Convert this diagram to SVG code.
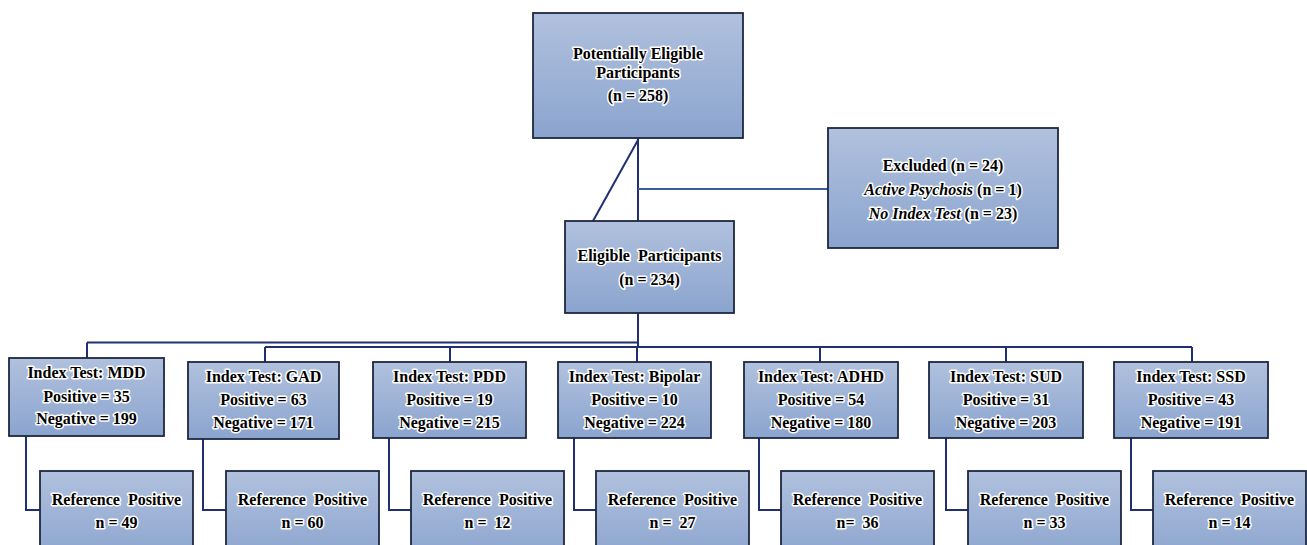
<svg xmlns="http://www.w3.org/2000/svg" width="1307" height="545" viewBox="0 0 1307 545">
<defs>
<linearGradient id="g" x1="0" y1="0" x2="0" y2="1">
<stop offset="0" stop-color="#b1c1de"/>
<stop offset="1" stop-color="#8ba4ce"/>
</linearGradient>
<style>
.box{fill:url(#g);stroke:#1d2742;stroke-width:1.8}
.t{font-family:"Liberation Serif","Times New Roman",serif;font-size:16px;font-weight:bold;fill:#000;stroke:#fff;stroke-width:3;stroke-linejoin:round;paint-order:stroke;text-anchor:middle;white-space:pre}
.i{font-style:italic}
.c{fill:none;stroke:#1f2f72;stroke-width:2}
.c2{fill:none;stroke:#3a5a9c;stroke-width:2}
</style>
</defs>
<rect width="1307" height="545" fill="#fff"/>
<g id="connectors">
<path class="c" d="M638 138V221"/>
<path class="c" d="M638 140L593 221" stroke-width="1.5"/>
<path class="c2" d="M638 189H828"/>
<path class="c" d="M638 313V347"/>
<path class="c" d="M87 342.5H638M87 342.5V358"/>
<path class="c" d="M265 347H1192M265 347V362M450 347V362M637 347V362M820 347V362M1006 347V362M1192 347V362"/>
<path class="c" d="M26 436V510H40M203 439V510H226M389 438V510H411M574 438V510H596M759 438V510H781M946 438V510H968M1131 438V510H1153"/>
</g>
<g id="potential">
<rect class="box" x="533" y="13" width="210" height="125"/>
<text class="t" x="638" y="59">Potentially Eligible</text>
<text class="t" x="638" y="78">Participants</text>
<text class="t" x="638" y="101">(n = 258)</text>
</g>
<g id="excluded">
<rect class="box" x="828" y="128" width="230" height="120"/>
<text class="t" x="943" y="171">Excluded (n = 24)</text>
<text class="t" x="943" y="195"><tspan class="i">Active Psychosis</tspan> (n = 1)</text>
<text class="t" x="943" y="219"><tspan class="i">No Index Test</tspan> (n = 23)</text>
</g>
<g id="eligible">
<rect class="box" x="565" y="221" width="169" height="92"/>
<text class="t" x="649.5" y="261">Eligible  Participants</text>
<text class="t" x="649.5" y="285">(n = 234)</text>
</g>
<g id="mdd">
<rect class="box" x="9" y="358" width="155" height="78"/>
<text class="t" x="86.5" y="378">Index Test: MDD</text>
<text class="t" x="86.5" y="402">Positive = 35</text>
<text class="t" x="86.5" y="424">Negative = 199</text>
</g>
<g id="gad">
<rect class="box" x="188" y="362" width="151" height="77"/>
<text class="t" x="263.5" y="382">Index Test: GAD</text>
<text class="t" x="263.5" y="405">Positive = 63</text>
<text class="t" x="263.5" y="428">Negative = 171</text>
</g>
<g id="pdd">
<rect class="box" x="373" y="362" width="153" height="76"/>
<text class="t" x="449.5" y="382">Index Test: PDD</text>
<text class="t" x="449.5" y="405">Positive = 19</text>
<text class="t" x="449.5" y="428">Negative = 215</text>
</g>
<g id="bipolar">
<rect class="box" x="558" y="362" width="153" height="76"/>
<text class="t" x="634.5" y="382">Index Test: Bipolar</text>
<text class="t" x="634.5" y="405">Positive = 10</text>
<text class="t" x="634.5" y="428">Negative = 224</text>
</g>
<g id="adhd">
<rect class="box" x="744" y="362" width="154" height="76"/>
<text class="t" x="821" y="382">Index Test: ADHD</text>
<text class="t" x="821" y="405">Positive = 54</text>
<text class="t" x="821" y="428">Negative = 180</text>
</g>
<g id="sud">
<rect class="box" x="929" y="362" width="154" height="76"/>
<text class="t" x="1006" y="382">Index Test: SUD</text>
<text class="t" x="1006" y="405">Positive = 31</text>
<text class="t" x="1006" y="428">Negative = 203</text>
</g>
<g id="ssd">
<rect class="box" x="1114" y="362" width="154" height="76"/>
<text class="t" x="1191" y="382">Index Test: SSD</text>
<text class="t" x="1191" y="405">Positive = 43</text>
<text class="t" x="1191" y="428">Negative = 191</text>
</g>
<g id="ref-mdd">
<rect class="box" x="40" y="471" width="153" height="90"/>
<text class="t" x="116.5" y="505">Reference  Positive</text>
<text class="t" x="116.5" y="528">n = 49</text>
</g>
<g id="ref-gad">
<rect class="box" x="226" y="471" width="153" height="90"/>
<text class="t" x="302.5" y="505">Reference  Positive</text>
<text class="t" x="302.5" y="528">n = 60</text>
</g>
<g id="ref-pdd">
<rect class="box" x="411" y="471" width="153" height="90"/>
<text class="t" x="487.5" y="505">Reference  Positive</text>
<text class="t" x="487.5" y="528">n =  12</text>
</g>
<g id="ref-bipolar">
<rect class="box" x="596" y="471" width="153" height="90"/>
<text class="t" x="672.5" y="505">Reference  Positive</text>
<text class="t" x="672.5" y="528">n =  27</text>
</g>
<g id="ref-adhd">
<rect class="box" x="781" y="471" width="153" height="90"/>
<text class="t" x="857.5" y="505">Reference  Positive</text>
<text class="t" x="857.5" y="528">n=  36</text>
</g>
<g id="ref-sud">
<rect class="box" x="968" y="471" width="153" height="90"/>
<text class="t" x="1044.5" y="505">Reference  Positive</text>
<text class="t" x="1044.5" y="528">n = 33</text>
</g>
<g id="ref-ssd">
<rect class="box" x="1153" y="471" width="153" height="90"/>
<text class="t" x="1229.5" y="505">Reference  Positive</text>
<text class="t" x="1229.5" y="528">n = 14</text>
</g>
</svg>
